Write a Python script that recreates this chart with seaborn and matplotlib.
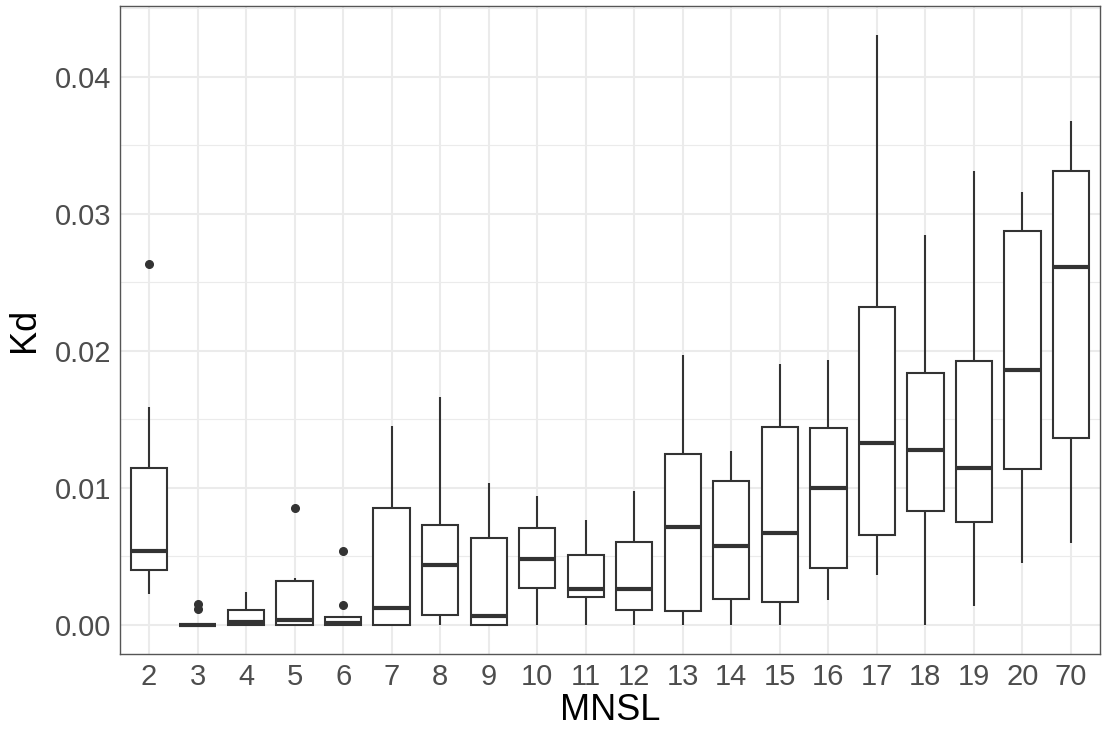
import numpy as np
import pandas as pd
import matplotlib
matplotlib.use("Agg")
import matplotlib.pyplot as plt
import seaborn as sns
from matplotlib.ticker import MultipleLocator

mnsl_labels = ['2', '3', '4', '5', '6', '7', '8', '9', '10', '11',
               '12', '13', '14', '15', '16', '17', '18', '19', '20', '70']

kd_2 = [0.0022, 0.0031, 0.0040, 0.0047, 0.0054, 0.0085, 0.01146, 0.0159, 0.0263]
kd_3 = [0.0, 0.0, 0.0, 0.0, 0.0, 0.0, 0.0, 0.0011, 0.0015]
kd_4 = [0.0, 0.0, 0.0, 0.0001, 0.00017, 0.0005, 0.00105, 0.0018, 0.0024]
kd_5 = [0.0, 0.0, 0.0, 0.0001, 0.0003, 0.0015, 0.0032, 0.0034, 0.0085]
kd_6 = [0.0, 0.0, 0.0, 0.0, 0.0001, 0.0003, 0.00055, 0.0014, 0.0054]
kd_7 = [0.0, 0.0, 0.0, 0.0006, 0.0012, 0.0040, 0.0085, 0.0120, 0.01448]
kd_8 = [0.0, 0.0003, 0.00073, 0.0025, 0.00438, 0.0060, 0.00723, 0.0120, 0.01664]
kd_9 = [0.0, 0.0, 0.0, 0.0003, 0.00066, 0.0030, 0.00633, 0.0080, 0.0103]
kd_10 = [0.0, 0.0015, 0.00268, 0.0038, 0.0048, 0.0060, 0.00706, 0.0085, 0.00937]
kd_11 = [0.0, 0.0010, 0.0020, 0.0023, 0.00258, 0.0038, 0.00506, 0.0065, 0.00766]
kd_12 = [0.0, 0.0005, 0.00105, 0.0018, 0.00258, 0.0045, 0.00606, 0.0080, 0.00973]
kd_13 = [0.0, 0.0004, 0.00097, 0.0040, 0.00713, 0.0095, 0.01248, 0.0160, 0.0197]
kd_14 = [0.0, 0.0010, 0.00187, 0.0038, 0.00572, 0.0080, 0.01049, 0.0115, 0.01265]
kd_15 = [0.0, 0.0008, 0.00166, 0.0040, 0.0067, 0.0110, 0.01445, 0.0170, 0.0190]
kd_16 = [0.00182, 0.0030, 0.00413, 0.0070, 0.00994, 0.0120, 0.01434, 0.0170, 0.01932]
kd_17 = [0.0036, 0.0050, 0.00655, 0.0100, 0.01323, 0.0180, 0.02317, 0.0330, 0.0430]
kd_18 = [0.0, 0.0040, 0.00828, 0.0105, 0.01277, 0.0155, 0.01837, 0.0230, 0.0284]
kd_19 = [0.00139, 0.0045, 0.00751, 0.0095, 0.01142, 0.0150, 0.01923, 0.0260, 0.03307]
kd_20 = [0.00447, 0.0080, 0.01132, 0.0150, 0.01861, 0.0240, 0.02873, 0.0300, 0.03156]
kd_70 = [0.00594, 0.0100, 0.0136, 0.0200, 0.02609, 0.0300, 0.03307, 0.0350, 0.03679]

groups = [kd_2, kd_3, kd_4, kd_5, kd_6, kd_7, kd_8, kd_9, kd_10, kd_11,
          kd_12, kd_13, kd_14, kd_15, kd_16, kd_17, kd_18, kd_19, kd_20, kd_70]

rows = []
for lab, vals in zip(mnsl_labels, groups):
    for v in vals:
        rows.append({'MNSL': lab, 'Kd': v})
df = pd.DataFrame(rows)

sns.set_style('white')
plt.rcParams['font.family'] = ['Liberation Sans', 'DejaVu Sans']

line_col = '#333333'
grid_col = '#EBEBEB'

fig = plt.figure(figsize=(11.02, 7.31), dpi=100)
ax = fig.add_axes([120 / 1102, 1 - 654 / 731, 980 / 1102, 648 / 731])

sns.boxplot(data=df, x='MNSL', y='Kd', order=mnsl_labels, ax=ax,
            color='white', linecolor=line_col, linewidth=1.5, width=0.75,
            whis=1.5, fliersize=5.5, showcaps=False,
            flierprops=dict(marker='o', markerfacecolor=line_col,
                            markeredgecolor=line_col),
            medianprops=dict(linewidth=3.0, color=line_col))

# ggplot-like expansion of the data range
ax.set_xlim(-0.6, len(mnsl_labels) - 0.4)
ax.set_ylim(-0.00215, 0.04515)
ax.yaxis.set_major_locator(MultipleLocator(0.01))
ax.yaxis.set_minor_locator(MultipleLocator(0.005))
ax.yaxis.set_major_formatter(plt.FuncFormatter(lambda v, p: f'{v:.2f}'))

ax.set_axisbelow(True)
ax.grid(True, which='major', axis='both', color=grid_col, linewidth=1.5)
ax.grid(True, which='minor', axis='y', color=grid_col, linewidth=0.8)

for s in ax.spines.values():
    s.set_color('#555555')
    s.set_linewidth(1.0)

ax.tick_params(axis='both', which='major', length=4, width=1, color=line_col,
               labelcolor='#4D4D4D', labelsize=21, pad=2.5)
ax.tick_params(axis='y', which='minor', length=0)

ax.set_xlabel('MNSL', fontsize=26, color='black', labelpad=1.5)
ax.set_ylabel('Kd', fontsize=26, color='black', labelpad=9)

plt.savefig('out.png', dpi=100)
